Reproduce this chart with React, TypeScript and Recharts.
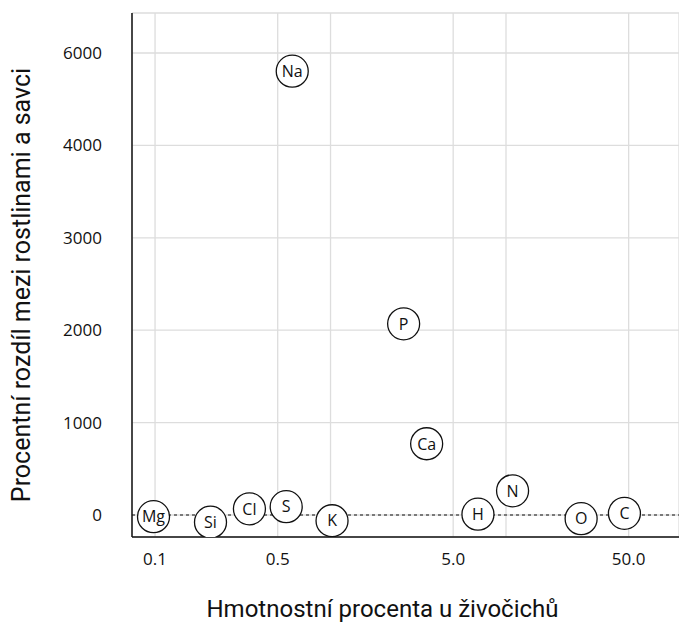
import React from 'react';
import { ScatterChart, Scatter, XAxis, YAxis, CartesianGrid, ReferenceLine, Label } from 'recharts';

// Chemical elements shown as labelled circles
const elements = ['Mg', 'Si', 'Cl', 'S', 'Na', 'K', 'P', 'Ca', 'H', 'N', 'O', 'C'];
// Mass percent in animals (x, log scale)
const animalMassPercent = [0.098, 0.207, 0.345, 0.559, 0.605, 1.02, 2.61, 3.53, 6.92, 10.9, 26.8, 47.3];
// Percent difference between plants and mammals (y)
const plantMammalDiffPercent = [-18, -78, 67, 90, 5606, -62, 2069, 771, 9, 262, -40, 18];

// Axis ticks
const xTicks = [0.1, 0.5, 1, 5, 10, 50];
const xTickLabels = ['0.1', '0.5', '', '5.0', '', '50.0'];
const yTickLabels = [0, 1000, 2000, 3000, 4000, 6000];

// The y axis places its labelled ticks at equal steps; map values onto that axis
const toAxis = (v: number): number => {
  const t = yTickLabels;
  if (v <= t[0]) return (v - t[0]) / (t[1] - t[0]);
  for (let i = 0; i < t.length - 1; i++) {
    if (v <= t[i + 1]) return i + (v - t[i]) / (t[i + 1] - t[i]);
  }
  const n = t.length - 1;
  return n + (v - t[n]) / (t[n] - t[n - 1]);
};

const data = elements.map((name, i) => ({
  name,
  x: animalMassPercent[i],
  y: toAxis(plantMammalDiffPercent[i]),
}));

const yTickPositions = yTickLabels.map((_, i) => i);

const ElementMarker = (props: any) => {
  const { cx, cy, payload } = props;
  if (cx == null || cy == null) return null;
  return (
    <g>
      <circle cx={cx} cy={cy} r={16} fill="#ffffff" stroke="#111111" strokeWidth={1.3} />
      <text
        x={cx}
        y={cy}
        dy="0.36em"
        textAnchor="middle"
        fontSize={16}
        fontFamily="'Open Sans', sans-serif"
        fill="#111111"
      >
        {payload.name}
      </text>
    </g>
  );
};

const tickStyle = { fontSize: 17, fontFamily: "'Open Sans', sans-serif", fill: '#111111' };
const xTitleStyle = { fontSize: 24, fontFamily: 'Roboto, sans-serif', fill: '#111111' };
const yTitleStyle = { fontSize: 25, fontFamily: 'Roboto, sans-serif', fill: '#111111' };

export default function App() {
  return (
    <div style={{ position: 'absolute', left: 0, top: 0, width: 679, height: 622, background: '#fff' }}>
      <ScatterChart width={679} height={622} margin={{ top: 13, right: 0, bottom: 0, left: 0 }}>
        <CartesianGrid stroke="#dddddd" strokeWidth={1.3} />
        <XAxis
          type="number"
          dataKey="x"
          scale="log"
          domain={[0.0739, 96.8]}
          allowDataOverflow
          ticks={xTicks}
          tickFormatter={(v: number) => xTickLabels[xTicks.indexOf(v)] ?? ''}
          interval={0}
          height={85}
          axisLine={{ stroke: '#111111', strokeWidth: 1.5 }}
          tickLine={false}
          tickSize={6}
          tickMargin={10}
          tick={tickStyle}
        >
          <Label
            value="Hmotnostní procenta u živočichů"
            position="insideBottom"
            offset={5}
            dx={-23}
            style={xTitleStyle}
          />
        </XAxis>
        <YAxis
          type="number"
          dataKey="y"
          domain={[-0.238, 5.433]}
          allowDataOverflow
          ticks={yTickPositions}
          tickFormatter={(t: number) => String(yTickLabels[t])}
          interval={0}
          width={132}
          axisLine={{ stroke: '#111111', strokeWidth: 1.5 }}
          tickLine={false}
          tickSize={6}
          tickMargin={24}
          tick={tickStyle}
        >
          <Label
            value="Procentní rozdíl mezi rostlinami a savci"
            position="insideLeft"
            angle={-90}
            offset={21}
            dy={10}
            textAnchor="middle"
            style={yTitleStyle}
          />
        </YAxis>
        <ReferenceLine y={0} stroke="#7a7a7a" strokeWidth={2} strokeDasharray="3 3" />
        <Scatter data={data} shape={ElementMarker} isAnimationActive={false} />
      </ScatterChart>
    </div>
  );
}
